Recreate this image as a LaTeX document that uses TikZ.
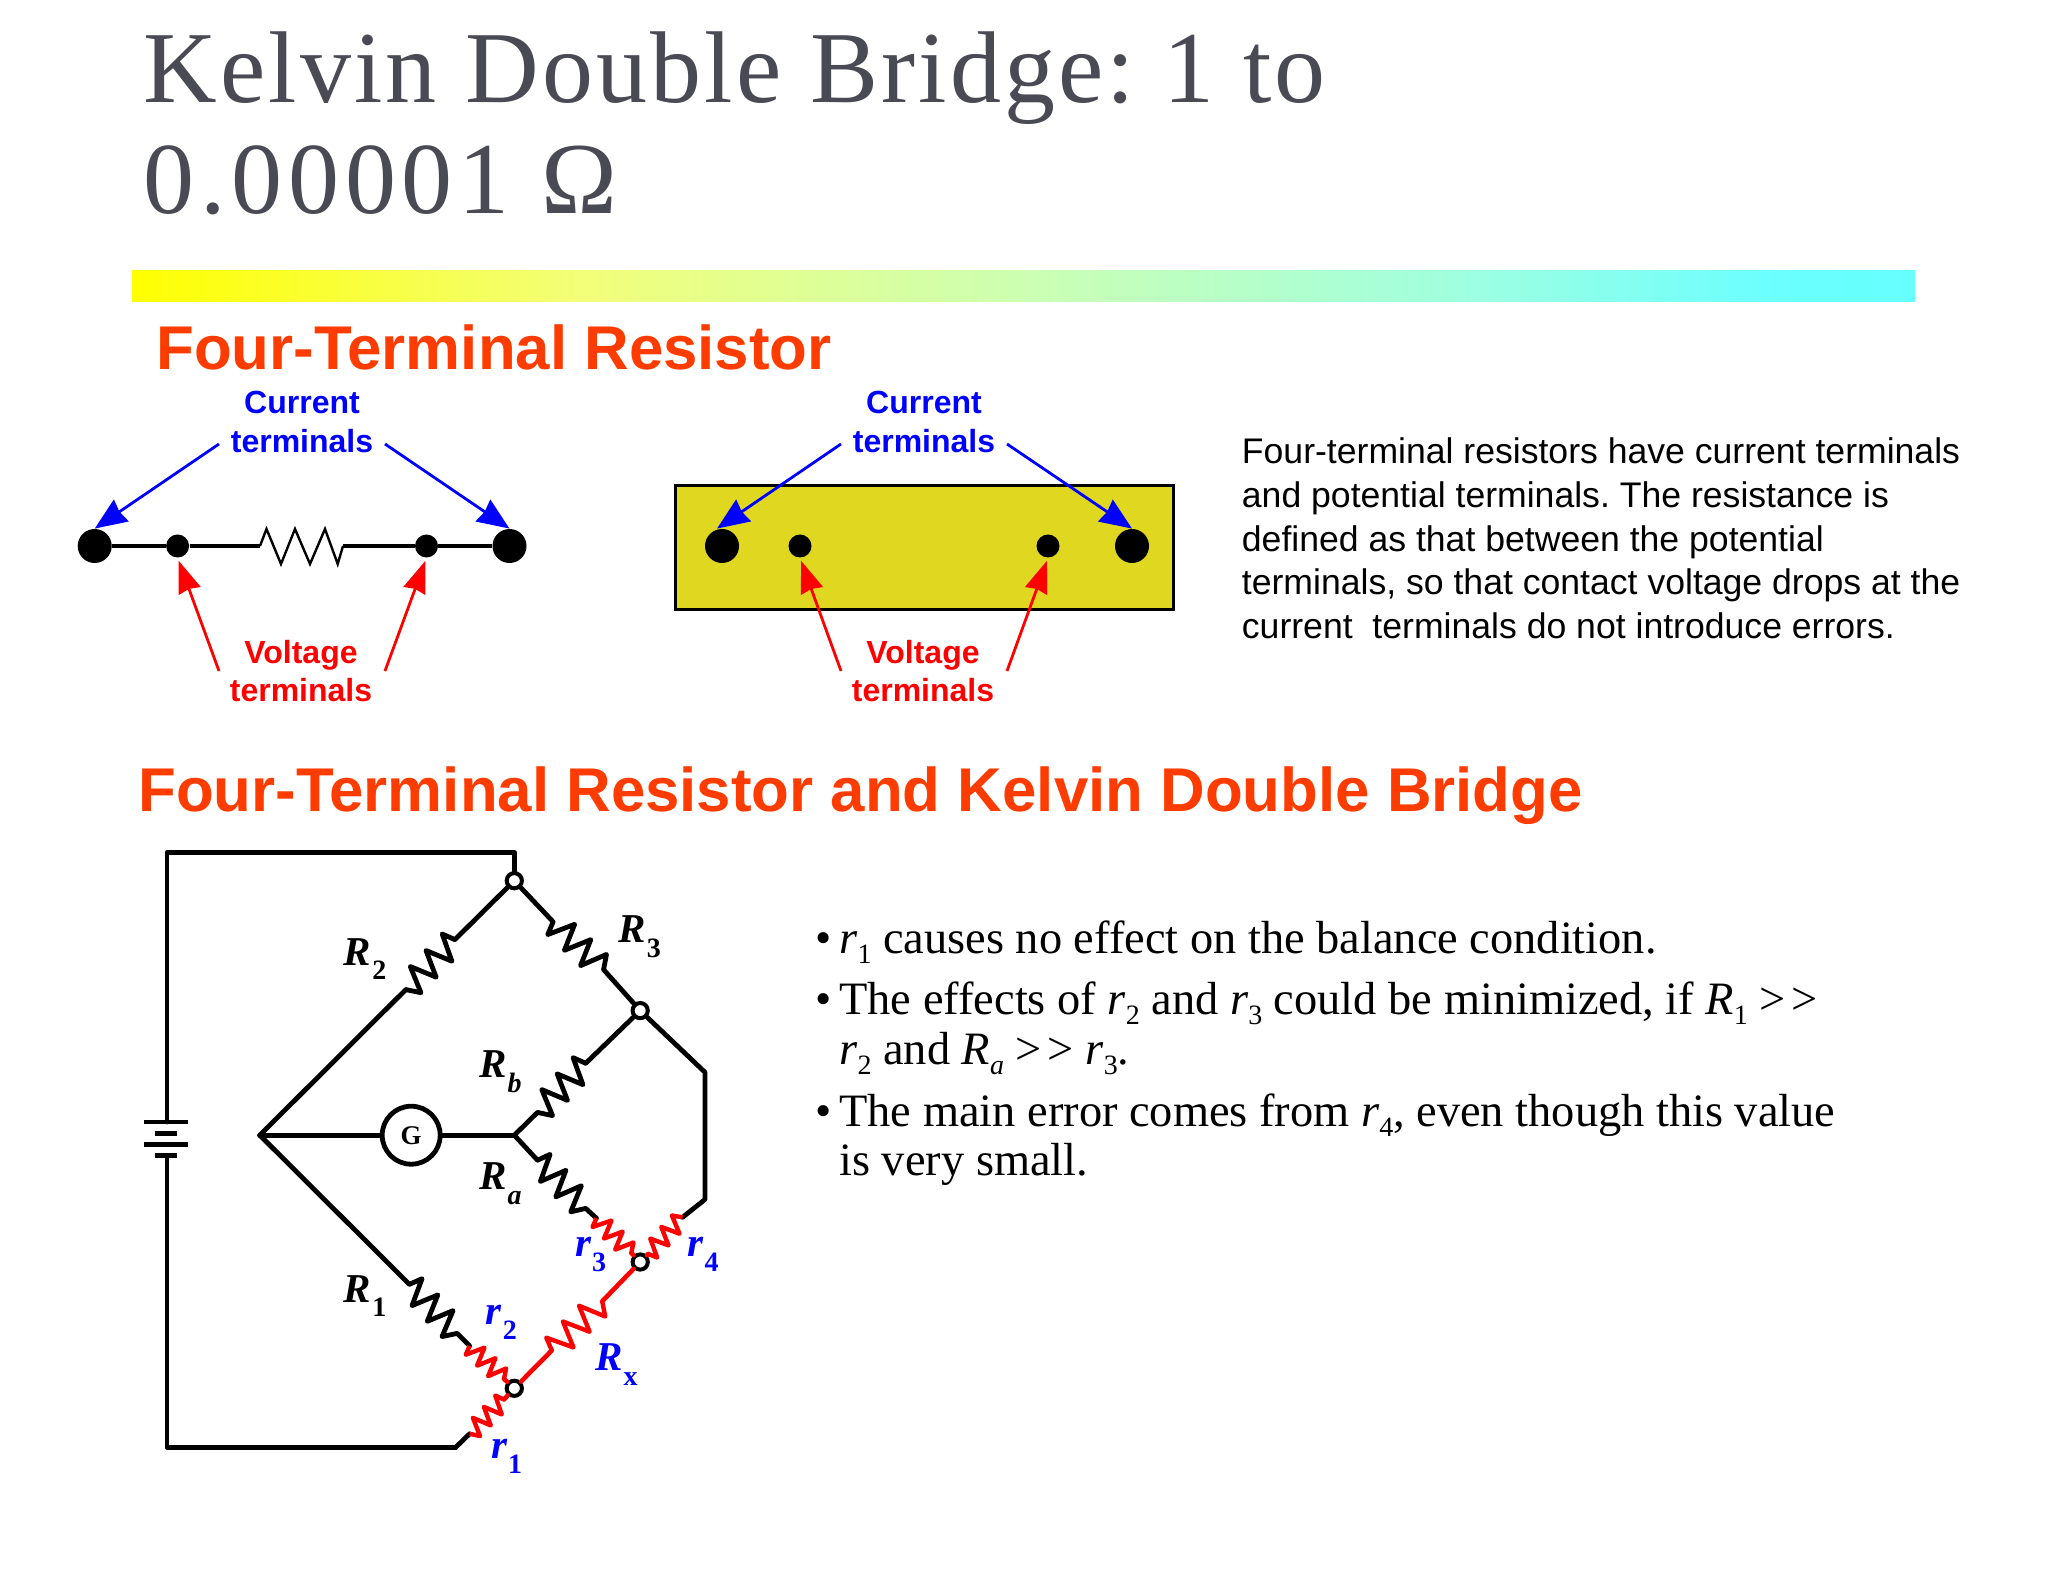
\documentclass[tikz,border=0pt]{standalone}
\usepackage{fontspec}
\setmainfont{Liberation Serif}
\setsansfont{Liberation Sans}
\newfontfamily\ttlfont[LetterSpace=3.1]{Liberation Serif}
\newfontfamily\ttlfontb[LetterSpace=5.7]{Liberation Serif}
\usetikzlibrary{arrows.meta,calc,shapes.geometric}
\definecolor{ttlgrey}{HTML}{4A4A55}
\definecolor{headred}{HTML}{FF3C00}
\definecolor{padyellow}{HTML}{E0D820}
\pgfdeclarehorizontalshading{barshade}{100bp}{rgb(0bp)=(1,1,0); rgb(25bp)=(1,1,0); rgb(37.5bp)=(.95,1,.47); rgb(50bp)=(.8,1,.7); rgb(62.5bp)=(.62,1,.88); rgb(71bp)=(.42,1,1); rgb(75bp)=(.4,1,1); rgb(100bp)=(.4,1,1)}
\newcommand{\zigzag}[4]{\draw[#4] (#1)
  -- ($(#1)!.07!(#2)!#3!-90:(#2)$)
  -- ($(#1)!.25!(#2)!#3!90:(#2)$)
  -- ($(#1)!.40!(#2)!#3!-90:(#2)$)
  -- ($(#1)!.57!(#2)!#3!90:(#2)$)
  -- ($(#1)!.72!(#2)!#3!-90:(#2)$)
  -- ($(#1)!.88!(#2)!#3!90:(#2)$)
  -- (#2);}
\newcommand{\sbs}[1]{\raisebox{-0.22em}{\fontsize{14}{14}\selectfont #1}}
\newcommand{\ggt}{>\kern3pt>}
\newcommand{\lab}[2]{{\bfseries\itshape #1}\kern0.6pt\raisebox{-0.36em}{\fontsize{14}{14}\selectfont\bfseries #2}}
\newcommand{\labi}[2]{{\bfseries\itshape #1}\kern0.6pt\raisebox{-0.36em}{\fontsize{14}{14}\selectfont\bfseries\itshape #2}}
\tikzset{
  ttl/.style={anchor=base west,inner sep=0,font=\ttlfont\fontsize{51}{51}\selectfont,text=ttlgrey},
  ttlb/.style={ttl,font=\ttlfontb\fontsize{51}{51}\selectfont},
  head/.style={anchor=base west,inner sep=0,font=\sffamily\bfseries\fontsize{30.9}{30.9}\selectfont,text=headred},
  termblue/.style={anchor=base,inner sep=0,font=\sffamily\bfseries\fontsize{16}{16}\selectfont,text=blue},
  termred/.style={anchor=base,inner sep=0,font=\sffamily\bfseries\fontsize{16}{16}\selectfont,text=red},
  para/.style={anchor=base west,inner sep=0,font=\sffamily\fontsize{17.8}{17.8}\selectfont},
  bul/.style={anchor=base west,inner sep=0,font=\fontsize{23.2}{23.2}\selectfont},
  blab/.style={anchor=base west,inner sep=0,font=\fontsize{20.5}{20.5}\selectfont},
  rlab/.style={blab,text=blue},
  bigdot/.style={circle,fill=black,draw=none,minimum size=17pt,inner sep=0},
  smalldot/.style={circle,fill=black,draw=none,minimum size=11.5pt,inner sep=0},
  thin wire/.style={line width=1.6pt},
  zigthin/.style={line width=1.2pt,line join=miter},
  blue arrow/.style={draw=blue,line width=1.4pt,-{Stealth[length=16pt,width=13pt,inset=1pt]}},
  red arrow/.style={draw=red,line width=1.4pt,-{Stealth[length=16pt,width=11.5pt,inset=1pt]},shorten >=1.5pt},
  wire/.style={line width=2.4pt,line cap=round,line join=round},
  redwire/.style={line width=2.3pt,draw=red,line cap=round,line join=round},
  zigblack/.style={line width=2.4pt,line join=round},
  zigred/.style={line width=2.2pt,draw=red,line join=round},
  hub/.style={circle,draw=black,fill=white,line width=2pt,minimum size=7.6pt,inner sep=0},
}
\begin{document}
\frenchspacing
\begin{tikzpicture}[x=0.5pt,y=-0.5pt]
\useasboundingbox (0,0) rectangle (2048,1582);
% title
\node[ttl] (t1) at (143,103) {Kelvin Double Bridge: 1 to};
\node[ttlb] (t2) at (143,214) {0.00001 Ω};
\shade[shading=barshade] (132,271) rectangle (1915,302);
\node[head] (h1) at (156,370) {Four-Terminal Resistor};
\node[head] (h2) at (138,811) {Four-Terminal Resistor and Kelvin Double Bridge};
% left four-terminal symbol
\node[termblue] (lc1) at (302,414) {Current};
\node[termblue] (lc2) at (302,453) {terminals};
\node[termred] (lv1) at (301,663) {Voltage};
\node[termred] (lv2) at (301,701) {terminals};
\node[bigdot] (d1) at (94.7,546) {};
\node[smalldot] (d2) at (177.6,546) {};
\node[smalldot] (d3) at (426.5,546) {};
\node[bigdot] (d4) at (509.5,546) {};
\coordinate (zs) at (260,546);
\coordinate (ze) at (343,546);
\draw[thin wire] (d1) -- (d2);
\draw[thin wire] (d2) -- (zs);
\draw[thin wire] (ze) -- (d3);
\draw[thin wire] (d3) -- (d4);
\draw[zigthin] (zs) -- (266.5,529) -- (281,564) -- (295,529) -- (310,564) -- (325,529) -- (337.7,564) -- (ze);
\coordinate (ab1) at (219,444);
\coordinate (ab2) at (385,444);
\coordinate (ar1) at (219,671);
\coordinate (ar2) at (385,671);
\draw[blue arrow] (ab1) -- (d1.north);
\draw[blue arrow] (ab2) -- (d4.north);
\draw[red arrow] (ar1) -- (d2.south);
\draw[red arrow] (ar2) -- (d3.south);
% right four-terminal plate
\node[draw=black,line width=1.3pt,fill=padyellow,minimum width=249pt,minimum height=62pt,inner sep=0,anchor=north west] (plate) at (674,484) {};
\node[termblue] (rc1) at (924,414) {Current};
\node[termblue] (rc2) at (924,453) {terminals};
\node[termred] (rv1) at (923,663) {Voltage};
\node[termred] (rv2) at (923,701) {terminals};
\node[bigdot] (e1) at (722,546) {};
\node[smalldot] (e2) at (800,546) {};
\node[smalldot] (e3) at (1048,546) {};
\node[bigdot] (e4) at (1132,546) {};
\coordinate (bb1) at (841,444);
\coordinate (bb2) at (1007,444);
\coordinate (br1) at (841,671);
\coordinate (br2) at (1007,671);
\draw[blue arrow] (bb1) -- ([xshift=-2.5pt]e1.north);
\draw[blue arrow] (bb2) -- (e4.north);
\draw[red arrow] (br1) -- (e2.south);
\draw[red arrow] (br2) -- (e3.south);
% paragraph
\node[para] (p1) at (1241.5,464) {Four-terminal resistors have current terminals};
\node[para] (p2) at (1241.5,508) {and potential terminals. The resistance is};
\node[para] (p3) at (1241.5,552) {defined as that between the potential};
\node[para] (p4) at (1241.5,595) {terminals, so that contact voltage drops at the};
\node[para] (p5) at (1241.5,638) {current\ \ terminals do not introduce errors.};
% bullets
\node[bul] (b1) at (815,953) {•};
\node[bul] (b1t) at (839,953) {\textit{r}\sbs{1} causes no effect on the balance condition.};
\node[bul] (b2) at (815,1014.6) {•};
\node[bul] (b2t) at (839,1014.6) {The effects of \textit{r}\sbs{2} and \textit{r}\sbs{3} could be minimized, if \textit{R}\sbs{1} \ggt};
\node[bul] (b2u) at (839,1064) {\textit{r}\sbs{2} and \textit{R\sbs{a}} \ggt{} \textit{r}\sbs{3}.};
\node[bul] (b3) at (815,1126) {•};
\node[bul] (b3t) at (839,1126) {The main error comes from \textit{r}\sbs{4}, even though this value};
\node[bul] (b3u) at (839,1175) {is very small.};
% bridge junctions
\node[hub] (A) at (514.3,880.7) {};
\node[hub] (N3) at (640.2,1010.6) {};
\node[hub] (N4) at (640.2,1262) {};
\node[hub] (N1) at (514.3,1388.3) {};
\coordinate (L) at (259.8,1135.2);
\coordinate (J) at (514.3,1135.2);
\node[circle,draw=black,fill=white,line width=2.4pt,minimum size=29pt,inner sep=0,font=\bfseries\fontsize{13.5}{13.5}\selectfont] (G) at (411.2,1135.2) {G};
\coordinate (TL) at (167,852.6);
\coordinate (TR) at (514.3,852.6);
\coordinate (BL) at (167,1447.2);
\coordinate (BR) at (455.8,1447.2);
\coordinate (C1) at (704.9,1072.2);
\coordinate (C2) at (704.9,1199.5);
% battery
\coordinate (pa1) at (144,1122); \coordinate (pa2) at (188,1122);
\coordinate (pb1) at (155,1133.4); \coordinate (pb2) at (177,1133.4);
\coordinate (pc1) at (144,1144.6); \coordinate (pc2) at (188,1144.6);
\coordinate (pd1) at (155,1155.7); \coordinate (pd2) at (177,1155.7);
\coordinate (wt) at (167,1122);
\coordinate (wb) at (167,1155.7);
\draw[wire,line cap=butt] (pa1) -- (pa2);
\draw[wire,line cap=butt] (pb1) -- (pb2);
\draw[wire,line cap=butt] (pc1) -- (pc2);
\draw[wire,line cap=butt] (pd1) -- (pd2);
\draw[wire] (wt) -- (TL) -- (TR) -- (A);
\draw[wire] (wb) -- (BL) -- (BR);
% resistor ends
\coordinate (R2a) at (454.9,939.6);  \coordinate (R2b) at (405.8,989.6);
\coordinate (R3a) at (553.1,921.8);  \coordinate (R3b) at (603.6,969.6);
\coordinate (Rba) at (585.7,1063.3); \coordinate (Rbb) at (537.5,1112.4);
\coordinate (Raa) at (537.5,1160.2); \coordinate (Rab) at (585.7,1208.4);
\coordinate (R1a) at (409.4,1284.3); \coordinate (R1b) at (457.1,1333.4);
\coordinate (r2a) at (469.6,1345.9); \coordinate (r2b) at (504,1378.9);
\coordinate (r3a) at (596.4,1218.2); \coordinate (r3b) at (631.3,1253);
\coordinate (r4a) at (648.2,1253.9); \coordinate (r4b) at (682.6,1217.3);
\coordinate (r1a) at (504,1399.5);   \coordinate (r1b) at (469.6,1433.8);
\coordinate (Rxa) at (551.8,1350.4); \coordinate (Rxb) at (602.2,1301.3);
% black resistors
\zigzag{R2a}{R2b}{6.5pt}{zigblack}
\zigzag{R3a}{R3b}{6.5pt}{zigblack}
\zigzag{Rba}{Rbb}{6.5pt}{zigblack}
\zigzag{Raa}{Rab}{-6.5pt}{zigblack}
\zigzag{R1a}{R1b}{-6.5pt}{zigblack}
% black wires
\draw[wire] (A) -- (R2a);
\draw[wire] (R2b) -- (L);
\draw[wire] (A) -- (R3a);
\draw[wire] (R3b) -- (N3);
\draw[wire] (N3) -- (Rba);
\draw[wire] (Rbb) -- (J);
\draw[wire] (J) -- (G);
\draw[wire] (G) -- (L);
\draw[wire] (J) -- (Raa);
\draw[wire] (L) -- (R1a);
\draw[wire] (N3) -- (C1) -- (C2) -- (r4b);
\draw[wire] (R1b) -- (r2a);
\draw[wire] (Rab) -- (r3a);
\draw[wire] (r1b) -- (BR);
% red part
\zigzag{r2a}{r2b}{4.5pt}{zigred}
\zigzag{r3a}{r3b}{4.5pt}{zigred}
\zigzag{r4a}{r4b}{4.5pt}{zigred}
\zigzag{r1a}{r1b}{4.5pt}{zigred}
\zigzag{Rxa}{Rxb}{-6.5pt}{zigred}
\draw[redwire] (r2b) -- (N1);
\draw[redwire] (N1) -- (r1a);
\draw[redwire] (N1) -- (Rxa);
\draw[redwire] (Rxb) -- (N4);
\draw[redwire] (r3b) -- (N4);
\draw[redwire] (N4) -- (r4a);
% labels
\node[blab] (lR2) at (343.3,965) {\lab{R}{2}};
\node[blab] (lR3) at (617.9,942.8) {\lab{R}{3}};
\node[blab] (lRb) at (478.6,1077.6) {\labi{R}{b}};
\node[blab] (lRa) at (478.6,1189.6) {\labi{R}{a}};
\node[blab] (lR1) at (343.3,1302) {\lab{R}{1}};
\node[rlab] (lr2) at (485.3,1324.5) {\lab{r}{2}};
\node[rlab] (lr3) at (574.6,1256.6) {\lab{r}{3}};
\node[rlab] (lr4) at (687,1256.6) {\lab{r}{4}};
\node[rlab] (lr1) at (490.6,1458.4) {\lab{r}{1}};
\node[rlab] (lRx) at (594.6,1370.4) {\lab{R}{x}};
\end{tikzpicture}
\end{document}
